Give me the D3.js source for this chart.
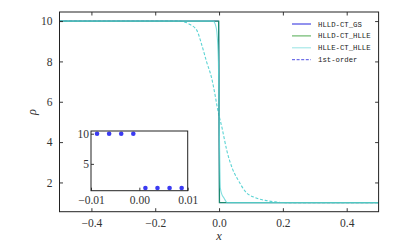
<!DOCTYPE html>
<html>
<head>
<meta charset="utf-8">
<script src="https://cdn.jsdelivr.net/npm/d3@7"></script>
<style>
  body { margin: 0; background: #fff; }
</style>
</head>
<body>
<script>
const w = 399;
const h = 249;

// tick labels
const xTicks = [-0.4, -0.2, 0.0, 0.2, 0.4];
const yTicks = [2, 4, 6, 8, 10];
const insetXTicks = [-0.01, 0.0, 0.01];
const insetYTicks = [5, 10];

// series
const gsX = [-0.5, -0.00125, 0.00125, 0.5];
const gsRho = [10, 10, 1, 1];
const hlldX = [-0.5, -0.00125, 0.00125, 0.5];
const hlldRho = [10, 10, 1, 1];
const hlleX = [-0.5, -0.018, -0.012, -0.007, -0.002, 0.001, 0.004, 0.009, 0.015, 0.02, 0.025, 0.5];
const hlleRho = [10, 10, 9.85, 9.47, 7.98, 4.5, 1.73, 1.4, 1.24, 1.1, 1.0, 1.0];
const firstX = [-0.5, -0.13, -0.112, -0.091, -0.070, -0.054, -0.039, -0.023, -0.0125, -0.005,
                0.0094, 0.025, 0.041, 0.062, 0.082, 0.114, 0.145, 0.177, 0.21, 0.5];
const firstRho = [10, 10, 9.97, 9.83, 9.55, 8.81, 7.98, 7.16, 6.34, 5.67,
                  4.70, 3.54, 2.72, 2.06, 1.56, 1.24, 1.11, 1.04, 1.0, 1.0];

// inset points (cell centres)
const insetX = [-0.00875, -0.00625, -0.00375, -0.00125, 0.00125, 0.00375, 0.00625, 0.00875];
const insetRho = [10, 10, 10, 10, 1, 1, 1, 1];

const legendNames = ["HLLD-CT_GS", "HLLD-CT_HLLE", "HLLE-CT_HLLE", "1st-order"];
const legendColors = ["#3a3ae0", "#5fb25f", "#9fe6e6", "#3a3ae0"];
const legendDash = [null, null, null, "3,1.6"];

const serif = "Liberation Serif";
const mono = "Liberation Mono";

let svg = d3.select("body")
    .append("svg")
    .attr("width", w)
    .attr("height", h);

svg.append("rect").attr("width", w).attr("height", h).attr("fill", "#fff");

// main axes
const L = 59.5, R = 378.6, T = 12, B = 211.7;
let x = d3.scaleLinear().domain([-0.5, 0.5]).range([L, R]);
let y = d3.scaleLinear().domain([0.55, 10.45]).range([B, T]);

svg.append("clipPath").attr("id", "clipMain")
    .append("rect").attr("x", L).attr("y", T).attr("width", R - L).attr("height", B - T);

let plot = svg.append("g").attr("clip-path", "url(#clipMain)");

function series(xs, ys) {
    return xs.map((v, i) => [v, ys[i]]);
}

let line = d3.line().x(d => x(d[0])).y(d => y(d[1]));
let smooth = d3.line().x(d => x(d[0])).y(d => y(d[1])).curve(d3.curveMonotoneX);

plot.append("path")
    .attr("d", smooth(series(firstX, firstRho)))
    .attr("fill", "none")
    .attr("stroke", "#5cd4d4")
    .attr("stroke-width", 1.1)
    .attr("stroke-dasharray", "3,1.8");

plot.append("path")
    .attr("d", line(series(gsX, gsRho)))
    .attr("fill", "none")
    .attr("stroke", "#2a2ad0")
    .attr("stroke-width", 0.7);

plot.append("path")
    .attr("d", line(series(hlldX, hlldRho)))
    .attr("fill", "none")
    .attr("stroke", "#1d8a6e")
    .attr("stroke-width", 1.3);

plot.append("path")
    .attr("d", smooth(series(hlleX, hlleRho)))
    .attr("fill", "none")
    .attr("stroke", "#5fd6d6")
    .attr("stroke-opacity", 0.8)
    .attr("stroke-width", 1.1);

// axes with inward ticks on all sides
function styleAxis(g) {
    g.attr("font-family", serif).attr("font-size", 11.5);
    g.select(".domain").remove();
    g.selectAll("line").attr("stroke", "#222").attr("stroke-width", 0.9);
    g.selectAll("text").attr("fill", "#333");
}

svg.append("g")
    .attr("transform", "translate(0," + B + ")")
    .call(d3.axisBottom(x).tickValues(xTicks).tickSizeInner(-3.5).tickSizeOuter(0)
        .tickPadding(7).tickFormat(d => d3.format(".1f")(d).replace("-", "\u2212")))
    .call(styleAxis);
svg.append("g")
    .attr("transform", "translate(0," + T + ")")
    .call(d3.axisTop(x).tickValues(xTicks).tickSizeInner(-3.5).tickSizeOuter(0).tickFormat(""))
    .call(styleAxis);
svg.append("g")
    .attr("transform", "translate(" + L + ",0)")
    .call(d3.axisLeft(y).tickValues(yTicks).tickSizeInner(-3.5).tickSizeOuter(0).tickPadding(7))
    .call(styleAxis);
svg.append("g")
    .attr("transform", "translate(" + R + ",0)")
    .call(d3.axisRight(y).tickValues(yTicks).tickSizeInner(-3.5).tickSizeOuter(0).tickFormat(""))
    .call(styleAxis);

svg.append("rect")
    .attr("x", L).attr("y", T).attr("width", R - L).attr("height", B - T)
    .attr("fill", "none").attr("stroke", "#222").attr("stroke-width", 1);

svg.append("text")
    .attr("x", (L + R) / 2).attr("y", 240)
    .attr("text-anchor", "middle")
    .attr("fill", "#333")
    .attr("font-family", serif)
    .attr("font-style", "italic").attr("font-size", 12.5)
    .text("x");
svg.append("text")
    .attr("transform", "translate(36,112) rotate(-90)")
    .attr("text-anchor", "middle")
    .attr("fill", "#333")
    .attr("font-family", serif)
    .attr("font-style", "italic").attr("font-size", 12.5)
    .text("\u03C1");

// legend
let leg = svg.append("g");
legendNames.forEach((name, i) => {
    let ly = 24 + i * 11.9;
    leg.append("line")
        .attr("x1", 292).attr("x2", 311).attr("y1", ly).attr("y2", ly)
        .attr("stroke", legendColors[i])
        .attr("stroke-width", legendDash[i] ? 0.9 : 1.1)
        .attr("stroke-dasharray", legendDash[i]);
    leg.append("text")
        .attr("x", 318).attr("y", ly).attr("dy", "0.35em")
        .attr("fill", "#222")
        .attr("font-family", mono)
        .attr("font-size", 7.3)
        .text(name);
});

// inset
const iL = 91, iR = 187.7, iT = 131, iB = 190.7;
let ix = d3.scaleLinear().domain([-0.01, 0.01]).range([iL, iR]);
let iy = d3.scaleLinear().domain([0.55, 10.45]).range([iB, iT]);

let inset = svg.append("g");
inset.append("rect")
    .attr("x", iL).attr("y", iT).attr("width", iR - iL).attr("height", iB - iT)
    .attr("fill", "#fff");

inset.selectAll("circle")
    .data(series(insetX, insetRho))
    .enter()
    .append("circle")
    .attr("cx", d => ix(d[0]))
    .attr("cy", d => iy(d[1]))
    .attr("r", 2.3)
    .style("fill", "#3b3bf2");

inset.append("g")
    .attr("transform", "translate(0," + iB + ")")
    .call(d3.axisBottom(ix).tickValues(insetXTicks).tickSizeInner(-3).tickSizeOuter(0)
        .tickPadding(5).tickFormat(d => d3.format(".2f")(d).replace("-", "\u2212")))
    .call(styleAxis);
inset.append("g")
    .attr("transform", "translate(" + iL + ",0)")
    .call(d3.axisLeft(iy).tickValues(insetYTicks).tickSizeInner(-3).tickSizeOuter(0).tickPadding(2))
    .call(styleAxis);

inset.append("rect")
    .attr("x", iL).attr("y", iT).attr("width", iR - iL).attr("height", iB - iT)
    .attr("fill", "none").attr("stroke", "#222").attr("stroke-width", 1);
</script>
</body>
</html>
